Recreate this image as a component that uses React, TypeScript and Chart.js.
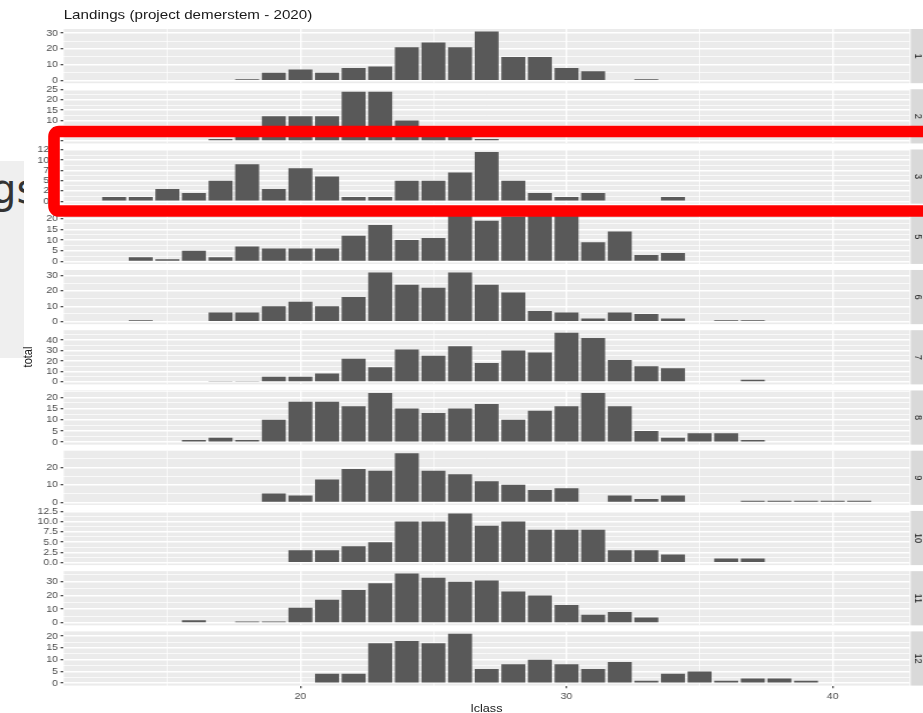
import React, { useEffect, useRef } from 'react';
import { Chart, registerables } from 'chart.js';

Chart.register(...registerables);

// Length classes (x axis), one slot per class: index 0 = 13, index 28 = 41
const LCLASS = [13, 14, 15, 16, 17, 18, 19, 20, 21, 22, 23, 24, 25, 26, 27, 28, 29, 30, 31, 32, 33, 34, 35, 36, 37, 38, 39, 40, 41];

// Landed totals per length class for each month (null = nothing landed)
//            13    14    15    16    17    18    19    20    21    22    23    24    25    26    27    28    29    30    31    32    33    34    35    36    37    38    39    40    41
const M1  = [null, null, null, null, null, 1,    5,    7,    5,    8,    9,    21,   24,   21,   31,   15,   15,   8,    6,    null, 1,    null, null, null, null, null, null, null, null];
const M2  = [null, null, null, null, 1,    3,    12,   12,   12,   24,   24,   10,   5,    3,    1,    null, null, null, null, null, null, null, null, null, null, null, null, null, null];
const M3  = [1,    1,    3,    2,    5,    9,    3,    8,    6,    1,    1,    5,    5,    7,    12,   5,    2,    1,    2,    null, null, 1,    null, null, null, null, null, null, null];
const M5  = [null, 2,    1,    5,    2,    7,    6,    6,    6,    12,   17,   10,   11,   23,   19,   21,   23,   22,   9,    14,   3,    4,    null, null, null, null, null, null, null];
const M6  = [null, 1,    null, null, 6,    6,    10,   13,   10,   16,   32,   24,   22,   32,   24,   19,   7,    6,    2,    6,    5,    2,    null, 1,    1,    null, null, null, null];
const M7  = [null, null, null, null, 1,    1,    5,    5,    8,    22,   14,   31,   25,   34,   18,   30,   28,   47,   42,   21,   15,   13,   null, null, 2,    null, null, null, null];
const M8  = [null, null, null, 1,    2,    1,    10,   18,   18,   16,   22,   15,   13,   15,   17,   10,   14,   16,   22,   16,   5,    2,    4,    4,    1,    null, null, null, null];
const M9  = [null, null, null, null, null, null, 5,    4,    13,   19,   18,   28,   18,   16,   12,   10,   7,    8,    null, 4,    2,    4,    null, null, 1,    1,    1,    1,    1];
const M10 = [null, null, null, null, null, null, null, 3,    3,    4,    5,    10,   10,   12,   9,    10,   8,    8,    8,    3,    3,    2,    null, 1,    1,    null, null, null, null];
const M11 = [null, null, null, 2,    null, 1,    1,    11,   17,   24,   29,   36,   33,   30,   31,   23,   20,   13,   6,    8,    4,    null, null, null, null, null, null, null, null];
const M12 = [null, null, null, null, null, null, null, null, 4,    4,    17,   18,   17,   21,   6,    8,    10,   8,    6,    9,    1,    4,    5,    1,    2,    2,    1,    null, null];

// Facet rows (month labels on the strips) and their series
const MONTHS = ['1', '2', '3', '5', '6', '7', '8', '9', '10', '11', '12'];
const SERIES = [M1, M2, M3, M5, M6, M7, M8, M9, M10, M11, M12];

// Labelled y breaks per facet row
const Y_STEPS = [10, 5, 2.5, 5, 10, 10, 5, 10, 2.5, 10, 5];

// Labelled x breaks
const X_BREAKS = [20, 30, 40];

const TITLE = 'Landings (project demerstem - 2020)';
const X_TITLE = 'lclass';
const Y_TITLE = 'total';

// ---- layout (drawing units; the whole figure is widened to the page width) ----
const FONT = '"Liberation Sans", Arial, Helvetica, sans-serif';
const TICK_FONT_SIZE = 9.2;
const CANVAS_W = 803;
const STRETCH = 923 / CANVAS_W;
const PAGE_H = 713;
const PANEL_LEFT = 55.4;
const PANEL_RIGHT = 791.4;
const PANEL_TOP = 29;
const PANEL_H = 54.2;
const PANEL_PITCH = 60.24;
const X_AXIS_H = 15.5;
const STRIP_TEXT_X = 799;

const BAR_WIDTH = 0.9;
const xLo = Math.min(...LCLASS) - BAR_WIDTH / 2;
const xHi = Math.max(...LCLASS) + BAR_WIDTH / 2;
const X_MIN = xLo - 0.05 * (xHi - xLo);
const X_MAX = xHi + 0.05 * (xHi - xLo);
const X_MINOR_STEP = (X_BREAKS[1] - X_BREAKS[0]) / 2;

const isMultiple = (v: number, step: number) =>
  v !== undefined && Math.abs(v / step - Math.round(v / step)) < 1e-6;

function Facet({ idx }: { idx: number }) {
  const ref = useRef<HTMLCanvasElement>(null);
  const last = idx === MONTHS.length - 1;
  const top = PANEL_TOP + idx * PANEL_PITCH;
  const canvasTop = Math.floor(top) - 8;
  const padTop = top - canvasTop;
  const canvasH = last ? PAGE_H - canvasTop : 72;
  const padBottom = canvasH - padTop - PANEL_H - (last ? X_AXIS_H : 0);

  useEffect(() => {
    const values = SERIES[idx];
    const step = Y_STEPS[idx];
    const month = MONTHS[idx];
    const yMax = Math.max(...(values.filter((v) => v !== null) as number[]));
    const yLo = -0.05 * yMax;
    const yHi = 1.05 * yMax;

    const yTicks: { value: number }[] = [];
    for (let v = 0; v <= yHi + 1e-9; v += step / 2) yTicks.push({ value: +v.toFixed(4) });
    const xTicks: { value: number }[] = [];
    for (let v = Math.ceil(X_MIN / X_MINOR_STEP) * X_MINOR_STEP; v <= X_MAX; v += X_MINOR_STEP) xTicks.push({ value: v });
    const xMajor = (v: number) => X_BREAKS.includes(v);

    const data = LCLASS.map((x, i) => ({ x, y: values[i] })).filter((d) => d.y !== null);

    const facetPlugin = {
      id: 'facetPanel',
      beforeDraw(chart: any) {
        const { ctx, chartArea: a } = chart;
        ctx.save();
        ctx.fillStyle = '#EBEBEB';
        ctx.fillRect(a.left, a.top, a.right - a.left, a.bottom - a.top);
        ctx.restore();
      },
      afterDraw(chart: any) {
        const { ctx, chartArea: a, width } = chart;
        ctx.save();
        ctx.fillStyle = '#D9D9D9';
        ctx.fillRect(a.right + 0.9, a.top, width - a.right, a.bottom - a.top);
        ctx.translate(STRIP_TEXT_X, (a.top + a.bottom) / 2);
        ctx.rotate(Math.PI / 2);
        ctx.fillStyle = '#1A1A1A';
        ctx.font = `${TICK_FONT_SIZE}px ${FONT}`;
        ctx.textAlign = 'center';
        ctx.textBaseline = 'middle';
        ctx.fillText(month, 0, 0);
        ctx.restore();
      },
    };

    const chart = new Chart(ref.current as HTMLCanvasElement, {
      type: 'bar',
      data: {
        datasets: [
          {
            data: data as any,
            backgroundColor: '#595959',
            borderWidth: 0,
            barPercentage: BAR_WIDTH,
            categoryPercentage: 1,
          },
        ],
      },
      options: {
        responsive: false,
        animation: false,
        events: [],
        layout: { padding: { left: 0, right: CANVAS_W - PANEL_RIGHT, top: padTop, bottom: padBottom } },
        plugins: { legend: { display: false }, tooltip: { enabled: false }, title: { display: false } },
        scales: {
          x: {
            type: 'linear',
            min: X_MIN,
            max: X_MAX,
            offset: false,
            afterBuildTicks: (s: any) => { s.ticks = xTicks; },
            afterFit: (s: any) => { s.height = last ? X_AXIS_H : 0; },
            border: { display: false },
            grid: {
              offset: false,
              color: '#FFFFFF',
              lineWidth: (c: any) => (c.tick && xMajor(c.tick.value) ? 1.42 : 0.71),
              drawTicks: last,
              tickLength: 2.75,
              tickWidth: 1.1,
              tickColor: (c: any) => (c.tick && xMajor(c.tick.value) ? '#333333' : 'rgba(0,0,0,0)'),
            },
            ticks: {
              display: last,
              autoSkip: false,
              maxRotation: 0,
              padding: 2.2,
              color: '#4D4D4D',
              font: { family: FONT, size: TICK_FONT_SIZE },
              callback: (v: any) => (xMajor(v) ? String(v) : ''),
            },
          },
          y: {
            min: yLo,
            max: yHi,
            afterBuildTicks: (s: any) => { s.ticks = yTicks; },
            afterFit: (s: any) => { s.width = PANEL_LEFT; },
            border: { display: false },
            grid: {
              offset: false,
              color: '#FFFFFF',
              lineWidth: (c: any) => (c.tick && isMultiple(c.tick.value, step) ? 1.42 : 0.71),
              drawTicks: true,
              tickLength: 2.75,
              tickWidth: 1.1,
              tickColor: (c: any) => (c.tick && isMultiple(c.tick.value, step) ? '#333333' : 'rgba(0,0,0,0)'),
            },
            ticks: {
              autoSkip: false,
              padding: 2.2,
              color: '#4D4D4D',
              font: { family: FONT, size: TICK_FONT_SIZE },
              callback: (v: any) =>
                isMultiple(v, step) ? (step % 1 ? Number(v).toFixed(1) : String(Math.round(v))) : '',
            },
          },
        },
      } as any,
      plugins: [facetPlugin],
    });
    return () => chart.destroy();
  }, []);

  return (
    <canvas
      ref={ref}
      width={CANVAS_W}
      height={canvasH}
      style={{ position: 'absolute', left: 0, top: canvasTop }}
    />
  );
}

export default function App() {
  return (
    <div style={{ position: 'absolute', left: 0, top: 0, width: 923, height: PAGE_H, overflow: 'hidden', background: '#FFFFFF' }}>
      {/* window behind the figure */}
      <div style={{ position: 'absolute', left: 0, top: 161, width: 24, height: 197, background: '#EFEFEF', overflow: 'hidden' }}>
        <span
          style={{
            position: 'absolute',
            left: -9,
            top: 8.2,
            fontFamily: '"DejaVu Sans", sans-serif',
            fontSize: 40,
            lineHeight: '40px',
            color: '#333333',
            whiteSpace: 'nowrap',
          }}
        >
          gs
        </span>
      </div>

      {/* the faceted figure */}
      <div
        style={{
          position: 'absolute',
          left: 0,
          top: 0,
          width: CANVAS_W,
          height: PAGE_H,
          transform: `scaleX(${STRETCH})`,
          transformOrigin: '0 0',
        }}
      >
        <div
          style={{
            position: 'absolute',
            left: PANEL_LEFT,
            top: 8.3,
            fontFamily: FONT,
            fontSize: 13.2,
            lineHeight: '13.2px',
            color: '#1A1A1A',
            whiteSpace: 'nowrap',
          }}
        >
          {TITLE}
        </div>
        <div
          style={{
            position: 'absolute',
            left: 24,
            top: PANEL_TOP + (10 * PANEL_PITCH + PANEL_H) / 2,
            transform: 'translate(-50%, -50%) rotate(-90deg)',
            fontFamily: FONT,
            fontSize: 11,
            lineHeight: '11px',
            color: '#1A1A1A',
            whiteSpace: 'nowrap',
          }}
        >
          {Y_TITLE}
        </div>
        <div
          style={{
            position: 'absolute',
            left: (PANEL_LEFT + PANEL_RIGHT) / 2,
            top: 702.7,
            transform: 'translateX(-50%)',
            fontFamily: FONT,
            fontSize: 11,
            lineHeight: '11px',
            color: '#1A1A1A',
            whiteSpace: 'nowrap',
          }}
        >
          {X_TITLE}
        </div>
        {MONTHS.map((m, i) => (
          <Facet key={m} idx={i} />
        ))}
      </div>

      {/* highlight frame */}
      <svg width={923} height={PAGE_H} style={{ position: 'absolute', left: 0, top: 0, pointerEvents: 'none' }}>
        <rect x={54} y={131.5} width={900} height={79.5} rx={5} ry={5} fill="none" stroke="#FF0000" strokeWidth={11.6} />
      </svg>
    </div>
  );
}
